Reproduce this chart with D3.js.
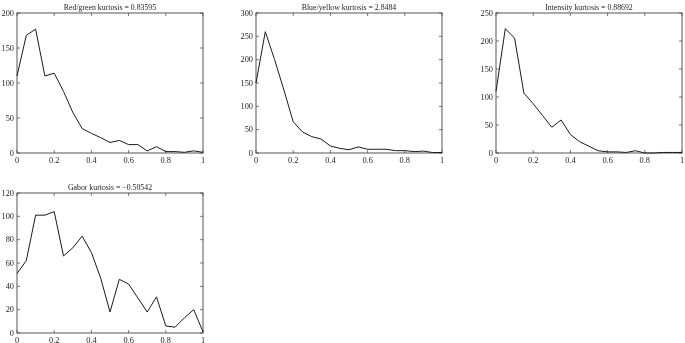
<!DOCTYPE html>
<html><head><meta charset="utf-8">
<script src="https://cdn.jsdelivr.net/npm/d3@7"></script>
<style>body{margin:0;background:#fff}svg{display:block;will-change:transform}text{font-family:"Liberation Serif","Times New Roman",serif;fill:#222}</style>
</head><body><svg id="c" width="685" height="343"></svg>
<script>
const xs = [0,0.05,0.1,0.15,0.2,0.25,0.3,0.35,0.4,0.45,0.5,0.55,0.6,0.65,0.7,0.75,0.8,0.85,0.9,0.95,1];
const redGreen = [110,168,177,110,114,88,58,35,28,22,15,18,12,12,3,9,2,2,1,3,1];
const blueYellow = [150,260,200,135,67,45,35,30,15,10,7,13,8,8,8,5,5,3,4,1,1];
const intensity = [110,222,205,107,88,67,46,59,33,20,12,4,2,2,1,4,0,0,1,1,1];
const gabor = [51,62,101,101,104,66,73,83,69,47,18,46,42,30,18,31,6,5,13,20,1];
const titles = ["Red/green kurtosis = 0.83595","Blue/yellow kurtosis = 2.8484","Intensity kurtosis = 0.88692","Gabor kurtosis = \u22120.50542"];
const yMaxes = [200,300,250,120];
const yTickSteps = [50,50,50,20];
const xTicks = [0,0.2,0.4,0.6,0.8,1];
const seriesList = [redGreen, blueYellow, intensity, gabor];

const boxes = [
  {l:17,r:203,t:13,b:153},
  {l:256,r:442,t:13,b:153},
  {l:496,r:682,t:13,b:153},
  {l:17,r:203,t:193,b:333}
];
const svg = d3.select("#c");
seriesList.forEach((data,i)=>{
  const bx = boxes[i];
  const x = d3.scaleLinear().domain([0,1]).range([bx.l,bx.r]);
  const y = d3.scaleLinear().domain([0,yMaxes[i]]).range([bx.b,bx.t]);
  const g = svg.append("g");
  const yt = d3.range(0,yMaxes[i]+0.001,yTickSteps[i]);
  const tl = 3;
  const tickStyle = s => s.attr("stroke","#555").attr("stroke-width",0.8);
  xTicks.forEach(v=>{
    tickStyle(g.append("line").attr("x1",x(v)).attr("x2",x(v)).attr("y1",bx.b).attr("y2",bx.b-tl));
    tickStyle(g.append("line").attr("x1",x(v)).attr("x2",x(v)).attr("y1",bx.t).attr("y2",bx.t+tl));
    g.append("text").attr("x",x(v)).attr("y",bx.b+9.5).attr("text-anchor","middle").attr("font-size",8.3).text(String(v));
  });
  yt.forEach(v=>{
    tickStyle(g.append("line").attr("x1",bx.l).attr("x2",bx.l+tl).attr("y1",y(v)).attr("y2",y(v)));
    tickStyle(g.append("line").attr("x1",bx.r).attr("x2",bx.r-tl).attr("y1",y(v)).attr("y2",y(v)));
    g.append("text").attr("x",bx.l-3).attr("y",y(v)+2.8).attr("text-anchor","end").attr("font-size",8.3).text(v);
  });
  g.append("rect").attr("x",bx.l).attr("y",bx.t).attr("width",bx.r-bx.l).attr("height",bx.b-bx.t)
    .attr("fill","none").attr("stroke","#444").attr("stroke-width",0.9);
  const line = d3.line().x((d,j)=>x(xs[j])).y(d=>y(d));
  g.append("path").datum(data).attr("d",line).attr("fill","none").attr("stroke","#1a1a1a").attr("stroke-width",1);
  g.append("text").attr("x",(bx.l+bx.r)/2).attr("y",bx.t-3).attr("text-anchor","middle").attr("font-size",7.8).text(titles[i]);
});
</script></body></html>
